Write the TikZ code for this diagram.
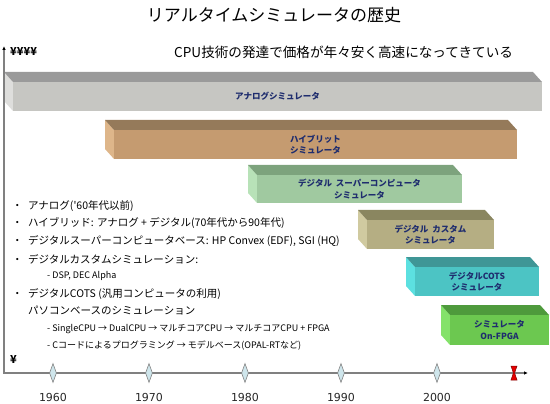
\documentclass[tikz,border=0pt]{standalone}
\usepackage{fontspec}
\setmainfont{Liberation Sans}
\newfontfamily\jpfont{Noto Sans CJK JP}
\newfontfamily\yearfont{DejaVu Sans}
\usepackage{tikz}
\usetikzlibrary{arrows.meta,shapes.geometric}
\usepackage{xcolor}
\definecolor{barnavy}{HTML}{1F2D6E}
\definecolor{axisgray}{HTML}{808080}
\definecolor{tickblue}{HTML}{CFE6EC}
\definecolor{analogtop}{HTML}{9A9A9A}
\definecolor{analogfront}{HTML}{C6C6C2}
\definecolor{analogside}{HTML}{DEDEDC}
\definecolor{hybridtop}{HTML}{957A5A}
\definecolor{hybridfront}{HTML}{C59B70}
\definecolor{hybridside}{HTML}{DEB68A}
\definecolor{supertop}{HTML}{7DA37D}
\definecolor{superfront}{HTML}{A0C9A0}
\definecolor{superside}{HTML}{B8E2B8}
\definecolor{customtop}{HTML}{8A8660}
\definecolor{customfront}{HTML}{B5AE83}
\definecolor{customside}{HTML}{D0CAA0}
\definecolor{cotstop}{HTML}{3F9696}
\definecolor{cotsfront}{HTML}{4CC4C4}
\definecolor{cotsside}{HTML}{5CE0E0}
\definecolor{fpgatop}{HTML}{4E9A3C}
\definecolor{fpgafront}{HTML}{6CC850}
\definecolor{fpgaside}{HTML}{84E26A}

% 3D bar: name, x1, y1, x2, y2 (front face), colour prefix
\newcommand{\simbar}[6]{%
  \fill[#6side] (#2,#3) -- ({#2-9},{#3-10}) -- ({#2-9},{#5-10}) -- (#2,#5) -- cycle;
  \fill[#6top] ({#2-9},{#3-10}) -- ({#4-9},{#3-10}) -- (#4,#3) -- (#2,#3) -- cycle;
  \fill[#6front] (#2,#3) rectangle (#4,#5);
  \coordinate (#1) at ({(#2+#4)/2},{(#3+#5)/2});
}

\begin{document}
\begin{tikzpicture}[x=1pt,y=-1pt,line cap=round,
  bartext/.style={font=\jpfont\bfseries\fontsize{8.5}{11.5}\selectfont,text=barnavy,align=center,inner sep=0pt},
  listtext/.style={font=\jpfont\fontsize{10.5}{12}\selectfont,anchor=west,inner sep=0pt},
  subtext/.style={font=\jpfont\fontsize{9}{10}\selectfont,anchor=west,inner sep=0pt},
  yearlabel/.style={font=\yearfont\fontsize{11}{13}\selectfont,text=black!85},
  yeardiamond/.style={shape=diamond,draw=gray,fill=tickblue,line width=0.6pt,
    minimum width=7pt,minimum height=19pt,inner sep=0pt}]
\useasboundingbox (0,0) rectangle (550,404);

% title
\node[font=\jpfont\fontsize{17}{20}\selectfont] (title) at (274,15) {リアルタイムシミュレータの歴史};
\node[font=\jpfont\fontsize{13.6}{16}\selectfont,anchor=west,inner sep=0pt] (trend) at (174,52) {CPU技術の発達で価格が年々安く高速になってきている};
\node[font=\jpfont\bfseries\fontsize{11}{13}\selectfont,anchor=west,inner sep=0pt] (highprice) at (10,52) {¥¥¥¥};
\node[font=\jpfont\bfseries\fontsize{11}{13}\selectfont,anchor=west,inner sep=0pt] (lowprice) at (10,360) {¥};

% bars
\simbar{analog}{13}{82}{542}{111}{analog}
\simbar{hybrid}{114}{130}{517}{159}{hybrid}
\simbar{super}{257}{175}{462}{203}{super}
\simbar{custom}{367}{220}{494}{249}{custom}
\simbar{cots}{415}{267}{539}{296}{cots}
\simbar{fpga}{450}{315}{549}{345}{fpga}
\node[bartext] (analogtext) at (analog) {アナログシミュレータ};
\node[bartext] (hybridtext) at (hybrid) {ハイブリット\\シミュレータ};
\node[bartext] (supertext) at (super) {デジタル\ \ スーパーコンピュータ\\シミュレータ};
\node[bartext] (customtext) at (custom) {デジタル\ \ カスタム\\シミュレータ};
\node[bartext] (cotstext) at (cots) {デジタルCOTS\\シミュレータ};
\node[bartext] (fpgatext) at (fpga) {シミュレータ\\On-FPGA};

% list
\node[listtext] (l1) at (12,206) {\makebox[16pt][l]{・}アナログ('60年代以前)};
\node[listtext] (l2) at (12,223) {\makebox[16pt][l]{・}ハイブリッド: アナログ + デジタル(70年代から90年代)};
\node[listtext] (l3) at (12,241) {\makebox[16pt][l]{・}デジタルスーパーコンピュータベース: HP Convex (EDF), SGI (HQ)};
\node[listtext] (l4) at (12,259) {\makebox[16pt][l]{・}デジタルカスタムシミュレーション:};
\node[subtext] (l4a) at (47,276) {- DSP, DEC Alpha};
\node[listtext] (l5) at (12,294) {\makebox[16pt][l]{・}デジタルCOTS (汎用コンピュータの利用)};
\node[listtext] (l6) at (28,311) {パソコンベースのシミュレーション};
\node[subtext] (l6a) at (47,329) {- SingleCPU → DualCPU → マルチコアCPU → マルチコアCPU + FPGA};
\node[subtext] (l6b) at (47,346) {- Cコードによるプログラミング → モデルベース(OPAL-RTなど)};

% axes
\coordinate (ytop) at (4,46);
\coordinate (origin) at (4,373);
\coordinate (xend) at (528,373);
\draw[axisgray,line width=1.4pt,{Latex[length=4pt,width=3.5pt,color=black]}-{Latex[length=4pt,width=3.5pt,color=black]},line cap=butt]
  (ytop) -- (origin) -- (xend);

\node[yeardiamond] (d1960) at (53,373) {};
\node[yeardiamond] (d1970) at (149,373) {};
\node[yeardiamond] (d1980) at (245,373) {};
\node[yeardiamond] (d1990) at (341,373) {};
\node[yeardiamond] (d2000) at (437,373) {};
\node[yearlabel] (y1960) at (53,397) {1960};
\node[yearlabel] (y1970) at (149,397) {1970};
\node[yearlabel] (y1980) at (245,397) {1980};
\node[yearlabel] (y1990) at (341,397) {1990};
\node[yearlabel] (y2000) at (437,397) {2000};

% now
\filldraw[fill=red!90!black,draw=red!50!black,line width=0.5pt]
  (511,366) -- (517,366) -- (514.6,373) -- (517,380) -- (511,380) -- (513.4,373) -- cycle;
\end{tikzpicture}
\end{document}
